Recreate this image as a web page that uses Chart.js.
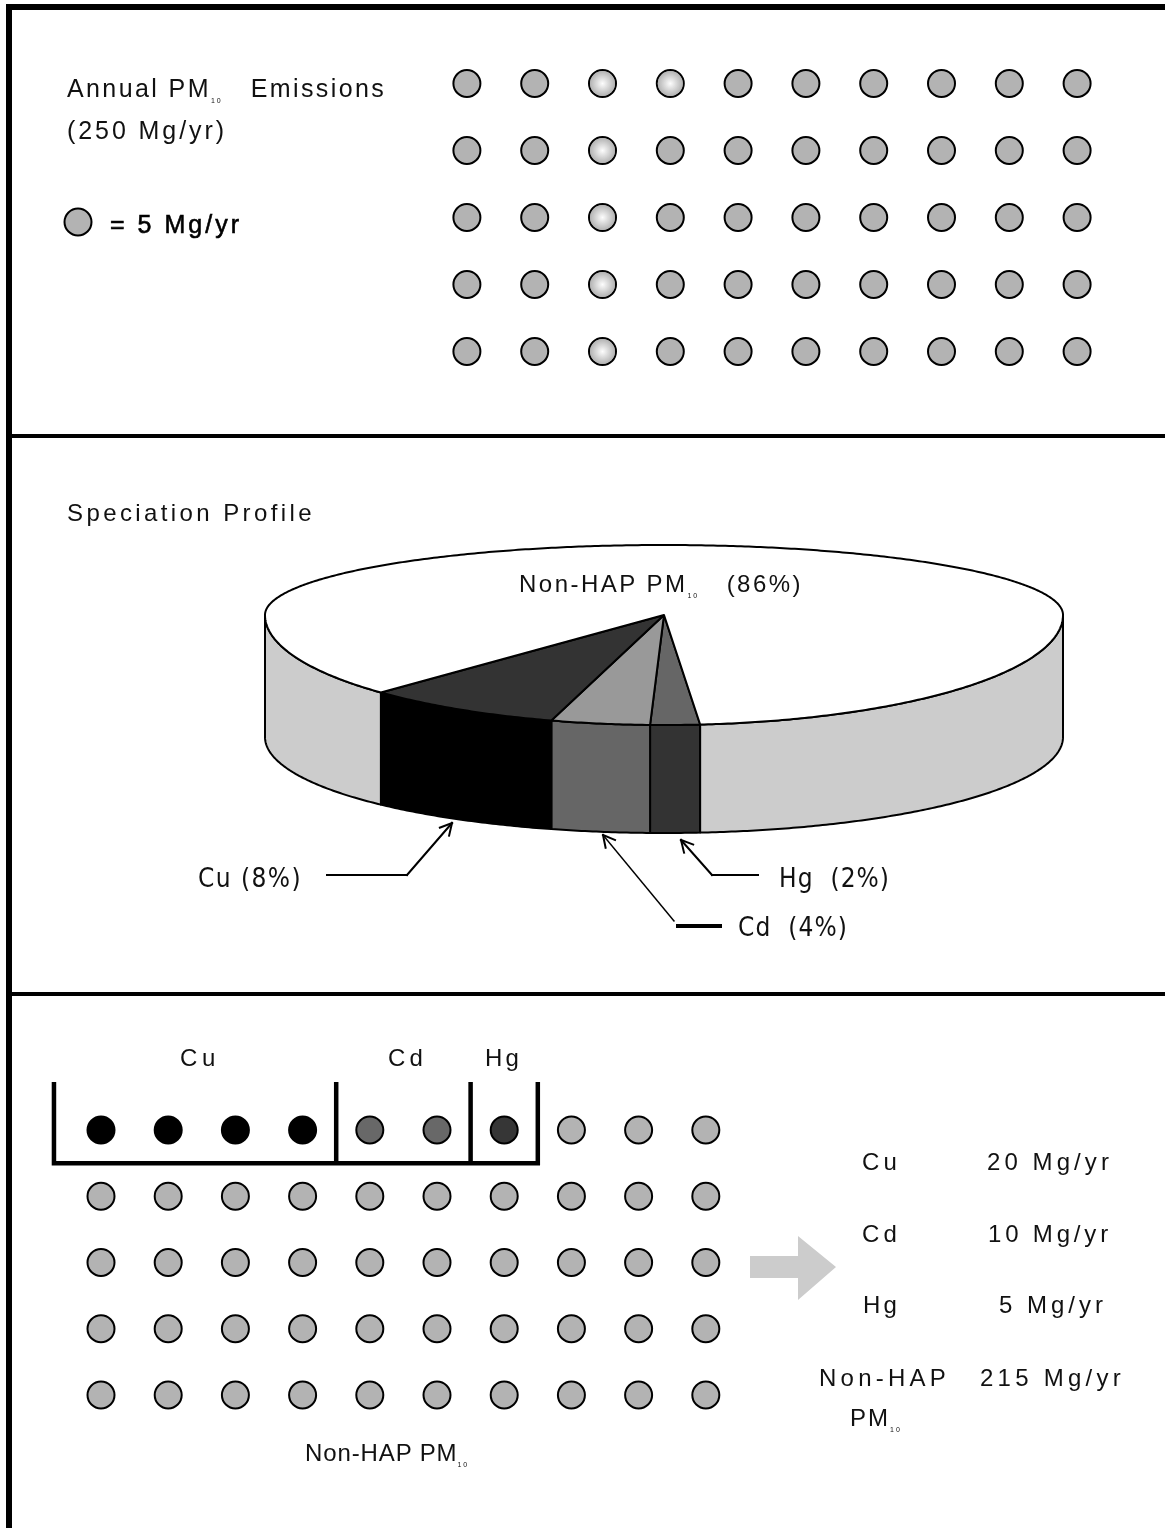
<!DOCTYPE html>
<html>
<head>
<meta charset="utf-8">
<title>PM10 speciation</title>
<script src="https://cdn.jsdelivr.net/npm/chart.js@4.4.1/dist/chart.umd.min.js"></script>
<style>
  html, body { margin: 0; padding: 0; background: #fff; }
  #page { position: relative; width: 1165px; height: 1528px; overflow: hidden; background: #fff;
          font-family: "Liberation Sans", Arial, sans-serif; color: #111; }
  .rule { position: absolute; background: #000; }
  .t { position: absolute; white-space: nowrap; line-height: 1; font-size: 24px; }
  .t sub { font-size: 7px; vertical-align: -6px; letter-spacing: 2px; }
  .narrow { font-family: "Liberation Sans Narrow", "DejaVu Sans Condensed", sans-serif; font-size: 26px; }
  canvas, svg { position: absolute; }
</style>
</head>
<body>
<div id="page">
  <div class="rule" style="left:6px;top:4px;width:1159px;height:6px"></div>
  <div class="rule" style="left:6px;top:4px;width:6px;height:1524px"></div>
  <div class="rule" style="left:6px;top:434px;width:1159px;height:4px"></div>
  <div class="rule" style="left:6px;top:992px;width:1159px;height:4px"></div>

  <canvas id="inventory" width="678" height="335" style="left:433px;top:50px"></canvas>
  <canvas id="key" width="36" height="36" style="left:60px;top:204px"></canvas>
  <canvas id="profile" width="804" height="320" style="left:262px;top:530px"></canvas>
  <canvas id="split" width="690" height="390" style="left:40px;top:1040px"></canvas>

  <svg id="notes" width="1165" height="1528" style="left:0;top:0">
    <polygon points="750,1256 798,1256 798,1236 836,1267 798,1300 798,1278 750,1278" fill="#cccccc"/>
  </svg>
</div>

<script>
// ---- data ----
const totalPM10 = 250;        // Mg/yr
const massPerDot = 5;         // Mg/yr shown by one dot
const highlightedDots = [2, 3, 12, 22, 32, 42];

const species = ['Cu', 'Cd', 'Hg', 'Non-HAP PM10'];
const speciesShare = [8, 4, 2, 86];          // percent of PM10
const speciesMass = [20, 10, 5, 215];        // Mg/yr

// pie is drawn clockwise: Hg, Cd, Cu, then the non-HAP remainder
const pieOrder = [2, 1, 0, 3];

// ---- styles ----
const dotGray = '#b3b3b3';
const dotColors = ['#000000', '#686868', '#363636', dotGray];
const sliceTopColors = ['#333333', '#999999', '#666666', '#ffffff'];
const sliceSideColors = ['#000000', '#666666', '#333333', '#cccccc'];

const page = document.getElementById('page');
const sub10 = s => s.replace('PM10', 'PM<sub>10</sub>');

function addText(html, left, top, width, cls) {
  const el = document.createElement('div');
  el.className = 't' + (cls ? ' ' + cls : '');
  el.innerHTML = html;
  el.style.left = left + 'px';
  el.style.top = top + 'px';
  if (width) el.dataset.w = width;
  page.appendChild(el);
  return el;
}

// ---- text ----
addText('Annual PM<sub>10</sub>&nbsp;&nbsp; Emissions', 67, 76, 324).style.fontSize = '25px';
addText('(' + totalPM10 + ' Mg/yr)', 67, 118, 160).style.fontSize = '25px';
const keyLbl = addText('= ' + massPerDot + ' Mg/yr', 110, 212, 132);
keyLbl.style.fontSize = '25px';
keyLbl.style.webkitTextStroke = '0.6px #000';
keyLbl.style.color = '#000';
addText('Speciation Profile', 67, 501, 248);
addText(sub10(species[3]) + '&nbsp;&nbsp;&nbsp;(' + speciesShare[3] + '%)', 519, 572, 289);

const calloutPos = [[198, 865, 104], [738, 914, 110], [779, 865, 111]];
for (let i = 0; i < 3; i++) {
  const [l, t, w] = calloutPos[i];
  addText(species[i] + (i === 0 ? ' (' : '&nbsp; (') + speciesShare[i] + '%)', l, t, w, 'narrow');
}

const bracketPos = [[180, 40], [388, 39], [485, 37]];
for (let i = 0; i < 3; i++) addText(species[i], bracketPos[i][0], 1046, bracketPos[i][1]);

const tableRows = [1150, 1222, 1293, 1366];
const tableName = [[862, 39], [862, 39], [863, 37], [819, 131]];
const tableMass = [[987, 126], [988, 124], [999, 108], [980, 145]];
for (let i = 0; i < 4; i++) {
  const parts = species[i].split(' ');
  addText(parts[0], tableName[i][0], tableRows[i], tableName[i][1]);
  if (parts[1]) addText(sub10(parts[1]), 850, tableRows[i] + 40, 56);
  addText(speciesMass[i] + ' Mg/yr', tableMass[i][0], tableRows[i], tableMass[i][1]);
}
addText(sub10(species[3]), 305, 1441, 166);

function fitText() {
  document.querySelectorAll('.t[data-w]').forEach(el => {
    el.style.letterSpacing = '0px';
    const natural = el.getBoundingClientRect().width;
    const n = el.textContent.length;
    el.style.letterSpacing = ((parseFloat(el.dataset.w) - natural) / n) + 'px';
  });
}
fitText();
if (document.fonts && document.fonts.ready) document.fonts.ready.then(fitText);

// ---- callout leaders ----
const svg = document.getElementById('notes');
function seg(x1, y1, x2, y2, w) {
  const l = document.createElementNS('http://www.w3.org/2000/svg', 'line');
  l.setAttribute('x1', x1); l.setAttribute('y1', y1);
  l.setAttribute('x2', x2); l.setAttribute('y2', y2);
  l.setAttribute('stroke', '#000'); l.setAttribute('stroke-width', w);
  l.setAttribute('stroke-linecap', 'square');
  svg.appendChild(l);
}
function leader(pts, w) {
  for (let i = 0; i < pts.length - 1; i++) seg(pts[i][0], pts[i][1], pts[i + 1][0], pts[i + 1][1], w);
  const [ax, ay] = pts[pts.length - 2], [tx, ty] = pts[pts.length - 1];
  const len = Math.hypot(tx - ax, ty - ay), bx = (ax - tx) / len, by = (ay - ty) / len;
  const a = 28 * Math.PI / 180, h = 13;
  [a, -a].forEach(r => {
    const c = Math.cos(r), s = Math.sin(r);
    seg(tx, ty, tx + h * (bx * c - by * s), ty + h * (bx * s + by * c), 2);
  });
}
leader([[327, 875], [407, 875], [452, 823]], 2);
leader([[758, 875], [712, 875], [681, 840]], 2);
leader([[674, 921], [603, 835]], 1.4);
seg(678, 926, 720, 926, 4);

// ---- charts ----
Chart.defaults.animation = false;
Chart.defaults.responsive = false;
Chart.defaults.devicePixelRatio = 1;
Chart.defaults.plugins.legend.display = false;
Chart.defaults.plugins.tooltip.enabled = false;
Chart.defaults.events = [];

const flatLayout = { padding: 0, autoPadding: false };

function dotScales(xmin, xmax, ymin, ymax) {
  return {
    x: { type: 'linear', min: xmin, max: xmax, display: false },
    y: { type: 'linear', min: ymin, max: ymax, reverse: true, display: false }
  };
}
const gridPoint = i => ({ x: i % 10 + 1, y: Math.floor(i / 10) + 1 });

// soft light centre on the emphasised dots
const glow = {
  id: 'glow',
  afterDatasetsDraw(chart, args, o) {
    const ctx = chart.ctx, meta = chart.getDatasetMeta(0);
    ctx.save();
    o.indices.forEach(i => {
      const el = meta.data[i];
      if (!el) return;
      const r = el.options.radius - 1;
      const g = ctx.createRadialGradient(el.x, el.y, 0, el.x, el.y, r);
      g.addColorStop(0, '#fdfdfd');
      g.addColorStop(0.35, '#e3e3e3');
      g.addColorStop(1, dotGray);
      ctx.beginPath();
      ctx.arc(el.x, el.y, r, 0, Math.PI * 2);
      ctx.fillStyle = g;
      ctx.fill();
    });
    ctx.restore();
  }
};

// inventory grid: one dot per 5 Mg/yr
const inventoryDots = [];
for (let i = 0; i < totalPM10 / massPerDot; i++) inventoryDots.push(gridPoint(i));

new Chart(document.getElementById('inventory'), {
  type: 'scatter',
  data: { datasets: [{
    data: inventoryDots, pointRadius: 13.5, borderWidth: 2,
    borderColor: '#000', backgroundColor: dotGray, clip: false
  }] },
  options: { layout: flatLayout, scales: dotScales(0.5, 10.5, 0.5, 5.5),
    plugins: { glow: { indices: highlightedDots } } },
  plugins: [glow]
});

new Chart(document.getElementById('key'), {
  type: 'scatter',
  data: { datasets: [{ data: [{ x: 0, y: 0 }], pointRadius: 13.5, borderWidth: 2,
    borderColor: '#000', backgroundColor: dotGray, clip: false }] },
  options: { layout: flatLayout, scales: dotScales(-1, 1, -1, 1) }
});

// 3-D pie: Chart.js lays out the arcs, this plugin extrudes them
const pie3d = {
  id: 'pie3d',
  beforeDatasetsDraw(chart, args, o) {
    const ctx = chart.ctx, area = chart.chartArea;
    const meta = chart.getDatasetMeta(0), ds = chart.data.datasets[0];
    const cx = (area.left + area.right) / 2;
    const rx = (area.right - area.left) / 2 - o.inset;
    const top = { cy: area.top + o.topCy, f: o.ryFront, b: o.ryBack };
    const bot = { cy: area.top + o.bottomCy, f: o.ryFrontBottom, b: o.ryBack };
    const pt = (e, a) => {
      const s = Math.sin(a);
      return [cx + rx * Math.cos(a), e.cy + (s >= 0 ? e.f : e.b) * s];
    };
    const trace = (e, a0, a1, move) => {
      const n = Math.max(2, Math.ceil(Math.abs(a1 - a0) / 0.01));
      for (let i = 0; i <= n; i++) {
        const p = pt(e, a0 + (a1 - a0) * i / n);
        if (i === 0 && move) ctx.moveTo(p[0], p[1]); else ctx.lineTo(p[0], p[1]);
      }
    };
    ctx.save();
    ctx.lineWidth = o.lineWidth;
    ctx.strokeStyle = '#000';
    ctx.lineJoin = 'round';
    const TAU = Math.PI * 2;
    meta.data.forEach((arc, i) => {
      const { startAngle: s, endAngle: e } = arc.getProps(['startAngle', 'endAngle'], true);
      for (let k = -2; k <= 2; k++) {
        const lo = Math.max(s, TAU * k), hi = Math.min(e, TAU * k + Math.PI);
        if (hi <= lo) continue;
        ctx.beginPath();
        trace(top, lo, hi, true);
        trace(bot, hi, lo, false);
        ctx.closePath();
        ctx.fillStyle = ds.sideColor[i];
        ctx.fill();
        ctx.stroke();
      }
    });
    meta.data.forEach((arc, i) => {
      const { startAngle: s, endAngle: e } = arc.getProps(['startAngle', 'endAngle'], true);
      ctx.beginPath();
      ctx.moveTo(cx, top.cy);
      trace(top, s, e, false);
      ctx.closePath();
      ctx.fillStyle = ds.backgroundColor[i];
      ctx.fill();
      ctx.stroke();
    });
    ctx.restore();
    return false;
  }
};

new Chart(document.getElementById('profile'), {
  type: 'pie',
  data: {
    labels: pieOrder.map(i => species[i]),
    datasets: [{
      data: pieOrder.map(i => speciesShare[i]),
      backgroundColor: pieOrder.map(i => sliceTopColors[i]),
      sideColor: pieOrder.map(i => sliceSideColors[i]),
      borderWidth: 0
    }]
  },
  options: {
    rotation: 174.8,
    layout: flatLayout,
    plugins: { pie3d: { inset: 3, topCy: 85, bottomCy: 207, ryFront: 110, ryBack: 70, ryFrontBottom: 96, lineWidth: 2 } }
  },
  plugins: [pie3d]
});

// split grid: the same 50 dots, grouped by species
const splitSets = [];
let next = 0;
species.forEach((name, i) => {
  const pts = [];
  for (let k = 0; k < speciesMass[i] / massPerDot; k++) pts.push(gridPoint(next++));
  splitSets.push({
    label: name, data: pts, pointRadius: 13.5, borderWidth: 2, borderColor: '#000',
    backgroundColor: dotColors[i], clip: false
  });
});

const brackets = {
  id: 'brackets',
  afterDatasetsDraw(chart, args, o) {
    const { x, y } = chart.scales, ctx = chart.ctx;
    const yTop = y.getPixelForValue(o.top), yBot = y.getPixelForValue(o.bottom);
    const edges = [];
    o.groups.forEach((di, n) => {
      const xs = chart.data.datasets[di].data.map(p => p.x);
      if (n === 0) edges.push(Math.min(...xs) - 0.5 - o.leftExtra);
      edges.push(Math.max(...xs) + 0.5);
    });
    ctx.save();
    ctx.strokeStyle = '#000';
    ctx.lineWidth = o.lineWidth;
    ctx.lineCap = 'square';
    ctx.beginPath();
    edges.forEach(v => {
      const px = x.getPixelForValue(v);
      ctx.moveTo(px, yTop);
      ctx.lineTo(px, yBot);
    });
    ctx.moveTo(x.getPixelForValue(edges[0]), yBot);
    ctx.lineTo(x.getPixelForValue(edges[edges.length - 1]), yBot);
    ctx.stroke();
    ctx.restore();
  }
};

new Chart(document.getElementById('split'), {
  type: 'scatter',
  data: { datasets: splitSets },
  options: {
    layout: flatLayout,
    scales: dotScales(0.0923, 10.36, -0.3585, 5.528),
    plugins: { brackets: { groups: [0, 1, 2], top: 0.31, bottom: 1.5, leftExtra: 0.2, lineWidth: 4.5 } }
  },
  plugins: [brackets]
});
</script>
</body>
</html>
